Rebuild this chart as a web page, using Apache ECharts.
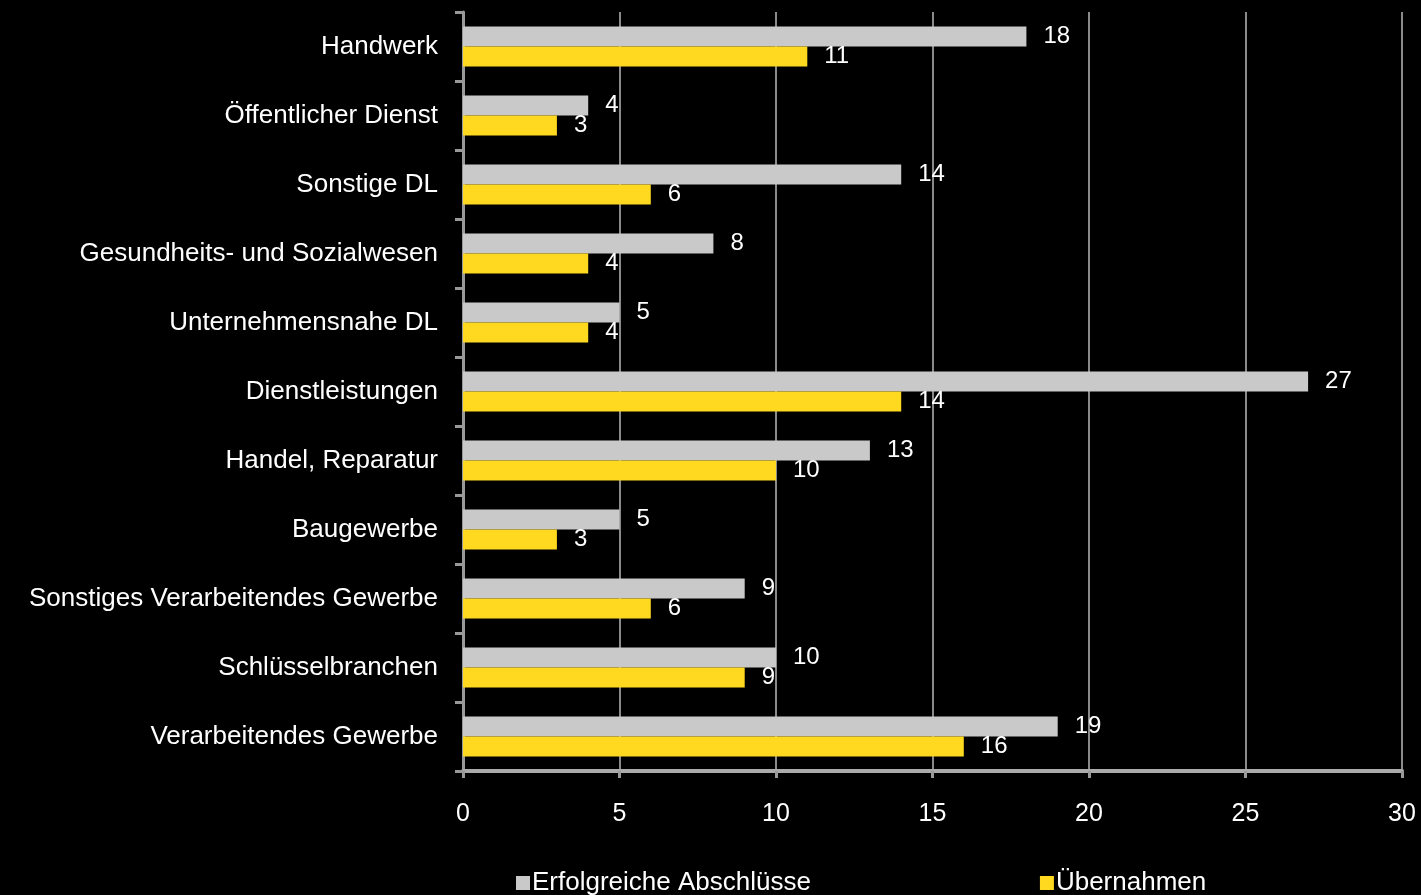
<!DOCTYPE html>
<html>
<head>
<meta charset="utf-8">
<script src="https://cdn.jsdelivr.net/npm/echarts@6/dist/echarts.min.js"></script>
<style>
  html, body { margin: 0; padding: 0; background: #000; }
  #chart { width: 1421px; height: 895px; }
</style>
</head>
<body>
<div id="chart"></div>
<script>
var categories = ['Handwerk', 'Öffentlicher Dienst', 'Sonstige DL', 'Gesundheits- und Sozialwesen',
  'Unternehmensnahe DL', 'Dienstleistungen', 'Handel, Reparatur', 'Baugewerbe',
  'Sonstiges Verarbeitendes Gewerbe', 'Schlüsselbranchen', 'Verarbeitendes Gewerbe']
var abschluesse = [18, 4, 14, 8, 5, 27, 13, 5, 9, 10, 19]
var uebernahmen = [11, 3, 6, 4, 4, 14, 10, 3, 6, 9, 16]
var seriesNames = ['Erfolgreiche Abschlüsse', 'Übernahmen']

var chart = echarts.init(document.getElementById('chart'))
var font = 'Liberation Sans, Arial, sans-serif'

chart.setOption({
  backgroundColor: '#000',
  animation: false,
  textStyle: { fontFamily: font },
  grid: {
    left: 463,
    right: 19,
    top: 12,
    bottom: 124
  },
  legend: {
    left: 511,
    top: 865,
    itemWidth: 14,
    itemHeight: 14,
    itemGap: 229,
    icon: 'rect',
    textStyle: { color: '#fff', fontSize: 26, fontFamily: font, padding: [0, 0, 0, -3] },
    data: seriesNames
  },
  xAxis: {
    type: 'value',
    min: 0,
    max: 30,
    interval: 5,
    axisLine: { show: true, lineStyle: { color: '#ababab', width: 4 } },
    axisTick: { show: true, length: 7, lineStyle: { color: '#999', width: 3 } },
    axisLabel: { color: '#fff', fontSize: 25, margin: 31 },
    splitLine: { show: true, lineStyle: { color: '#8a8a8a', width: 2 } }
  },
  yAxis: {
    type: 'category',
    inverse: true,
    data: categories,
    axisLine: { show: true, lineStyle: { color: '#999', width: 3 } },
    axisTick: { show: true, length: 8, lineStyle: { color: '#999', width: 3 } },
    axisLabel: { color: '#fff', fontSize: 26, margin: 25, padding: [6, 0, 0, 0] }
  },
  series: [{
    name: seriesNames[0],
    type: 'bar',
    data: abschluesse,
    barWidth: 20,
    barGap: 0,
    itemStyle: { color: '#c9c9c9' },
    label: { show: true, position: 'right', distance: 17, color: '#fff', fontSize: 24 }
  }, {
    name: seriesNames[1],
    type: 'bar',
    data: uebernahmen,
    barWidth: 20,
    barGap: 0,
    itemStyle: { color: '#ffd91f' },
    label: { show: true, position: 'right', distance: 17, color: '#fff', fontSize: 24 }
  }]
})
</script>
</body>
</html>
